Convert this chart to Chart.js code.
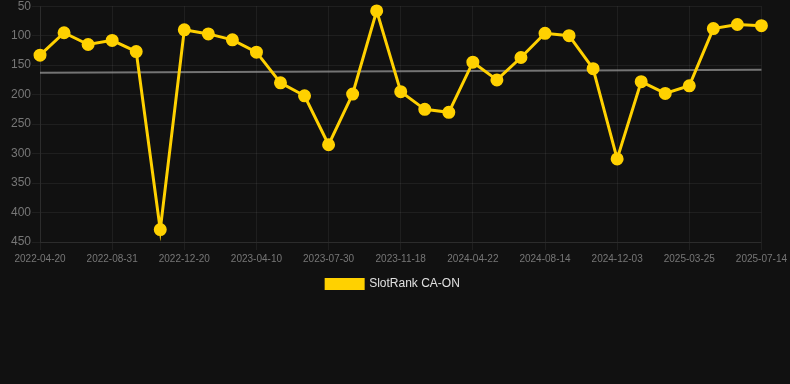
<!DOCTYPE html>
<html>
<head>
<meta charset="utf-8">
<script src="https://cdn.jsdelivr.net/npm/chart.js@4.4.0/dist/chart.umd.min.js"></script>
<style>
   html, body { margin: 0; padding: 0; background: #111111; overflow: hidden; }
   #wrap { width: 790px; height: 302px; position: relative; margin-top: -2px; }
</style>
</head>
<body>
<div id="wrap"><canvas id="myChart"></canvas></div>
<script>
const dates = [
   '2022-04-20', '2022-05-31', '2022-07-14', '2022-08-31', '2022-10-07', '2022-11-13',
   '2022-12-20', '2023-01-31', '2023-03-02', '2023-04-10', '2023-05-17', '2023-06-23',
   '2023-07-30', '2023-09-05', '2023-10-12', '2023-11-18', '2024-01-10', '2024-03-01',
   '2024-04-22', '2024-06-01', '2024-07-08', '2024-08-14', '2024-09-20', '2024-10-27',
   '2024-12-03', '2025-01-16', '2025-02-20', '2025-03-25', '2025-05-01', '2025-06-07',
   '2025-07-14'
];

const slotRank = [
   133, 95, 115, 108, 127, 429, 90, 97, 107, 128, 180,
   202, 285, 199, 58, 195, 225, 230, 145, 175, 137, 96,
   100, 156, 309, 178, 198, 185, 88, 81, 83
];

// trend line only has its two end values
const trend = [163, null, null, null, null, null, null, null, null, null, null,
   null, null, null, null, null, null, null, null, null, null, null,
   null, null, null, null, null, null, null, null, 158];

const yellow = 'rgb(255, 209, 0)';
const gridColor = 'rgba(255, 255, 255, 0.06)';

Chart.defaults.font.family = 'Arial, "Liberation Sans", Helvetica, sans-serif';

const createChart = () => {
   const data = {
      labels: dates,
      datasets: [{
         label: 'SlotRank CA-ON',
         data: slotRank,
         borderColor: yellow,
         backgroundColor: yellow,
         borderWidth: 3,
         pointRadius: 5,
         pointHoverRadius: 5,
         pointBackgroundColor: yellow,
         pointBorderColor: yellow,
         tension: 0
      }, {
         label: 'trend',
         data: trend,
         borderColor: 'rgba(150, 150, 150, 0.75)',
         borderWidth: 2,
         pointRadius: 0,
         spanGaps: true,
         tension: 0
      }]
   };
   const config = {
      type: 'line',
      data: data,
      options: {
         responsive: true,
         maintainAspectRatio: false,
         animation: false,
         layout: { padding: { left: 10, right: 14 } },
         plugins: {
            legend: {
               position: 'bottom',
               labels: {
                  color: '#e0e0e0',
                  boxWidth: 37,
                  boxHeight: 9,
                  font: { size: 12 },
                  filter: (item) => item.text !== 'trend'
               }
            },
            tooltip: { enabled: false }
         },
         scales: {
            x: {
               grid: { color: gridColor, tickLength: 8 },
               border: { color: gridColor },
               ticks: {
                  color: '#777',
                  font: { size: 10 },
                  autoSkip: false,
                  maxRotation: 0,
                  callback: function (val, i) {
                     return i % 3 === 0 ? this.getLabelForValue(val) : null;
                  }
               }
            },
            y: {
               reverse: true,
               grid: { color: gridColor },
               border: { color: gridColor },
               ticks: {
                  color: '#777',
                  font: { size: 12 },
                  padding: 1,
                  stepSize: 50
               }
            }
         }
      }
   };
   const ctx = document.getElementById('myChart').getContext('2d');
   return new Chart(ctx, config);
}

createChart();
</script>
</body>
</html>
